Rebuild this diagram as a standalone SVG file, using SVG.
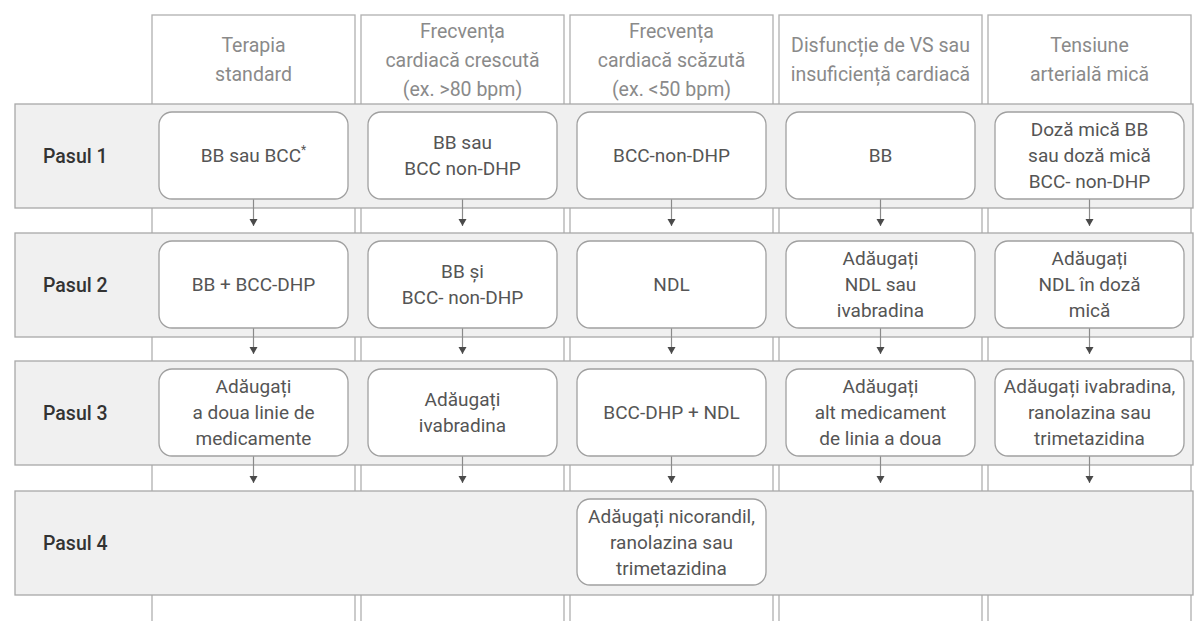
<svg xmlns="http://www.w3.org/2000/svg" width="1195" height="621" viewBox="0 0 1195 621">
<defs>
<style>
.col{fill:#fff;stroke:#b0b0b0;stroke-width:1.3}
.band{fill:#f0f0f0;stroke:#a8a8a8;stroke-width:1.3}
.node{fill:#fff;stroke:#a0a0a0;stroke-width:1.3}
.hd{font-family:Roboto,"Noto Sans",sans-serif;font-size:19.5px;fill:#8a8a8a;text-anchor:middle;dominant-baseline:central}
.nt{font-family:Roboto,"Noto Sans",sans-serif;font-size:19px;fill:#555;text-anchor:middle;dominant-baseline:central}
.step{font-family:Roboto,"Noto Sans",sans-serif;font-size:19.5px;font-weight:500;fill:#333;dominant-baseline:central}
.conn{stroke:#8a8a8a;stroke-width:1.2;fill:none}
</style>
<marker id="ah" markerUnits="userSpaceOnUse" markerWidth="10" markerHeight="10" refX="8" refY="5" orient="auto">
<path d="M1,1 L8,5 L1,9 Z" fill="#4a4a4a"/>
</marker>
</defs>
<rect width="1195" height="621" fill="#fff"/>

<g id="columns">
<rect class="col" x="152" y="15" width="203" height="620"/>
<rect class="col" x="361" y="15" width="203" height="620"/>
<rect class="col" x="570" y="15" width="203" height="620"/>
<rect class="col" x="779" y="15" width="203" height="620"/>
<rect class="col" x="988" y="15" width="203" height="620"/>
</g>

<g id="headers">
<g id="h1"><text class="hd" x="253.5" y="45">Terapia</text><text class="hd" x="253.5" y="74">standard</text></g>
<g id="h2"><text class="hd" x="462.5" y="31">Frecvența</text><text class="hd" x="462.5" y="60">cardiacă crescută</text><text class="hd" x="462.5" y="89">(ex. &gt;80 bpm)</text></g>
<g id="h3"><text class="hd" x="671.5" y="31">Frecvența</text><text class="hd" x="671.5" y="60">cardiacă scăzută</text><text class="hd" x="671.5" y="89">(ex. &lt;50 bpm)</text></g>
<g id="h4"><text class="hd" x="880.5" y="45">Disfuncție de VS sau</text><text class="hd" x="880.5" y="74">insuficiență cardiacă</text></g>
<g id="h5"><text class="hd" x="1089.5" y="45">Tensiune</text><text class="hd" x="1089.5" y="74">arterială mică</text></g>
</g>

<g id="bands">
<rect class="band" x="15" y="104" width="1178" height="104"/>
<rect class="band" x="15" y="233" width="1178" height="104"/>
<rect class="band" x="15" y="361" width="1178" height="104"/>
<rect class="band" x="15" y="491" width="1178" height="104"/>
<text class="step" x="43" y="156">Pasul 1</text>
<text class="step" x="43" y="285">Pasul 2</text>
<text class="step" x="43" y="413">Pasul 3</text>
<text class="step" x="43" y="543">Pasul 4</text>
</g>

<g id="connectors">
<line class="conn" x1="253.5" y1="199" x2="253.5" y2="226" marker-end="url(#ah)"/>
<line class="conn" x1="462.5" y1="199" x2="462.5" y2="226" marker-end="url(#ah)"/>
<line class="conn" x1="671.5" y1="199" x2="671.5" y2="226" marker-end="url(#ah)"/>
<line class="conn" x1="880.5" y1="199" x2="880.5" y2="226" marker-end="url(#ah)"/>
<line class="conn" x1="1089.5" y1="199" x2="1089.5" y2="226" marker-end="url(#ah)"/>
<line class="conn" x1="253.5" y1="328" x2="253.5" y2="354" marker-end="url(#ah)"/>
<line class="conn" x1="462.5" y1="328" x2="462.5" y2="354" marker-end="url(#ah)"/>
<line class="conn" x1="671.5" y1="328" x2="671.5" y2="354" marker-end="url(#ah)"/>
<line class="conn" x1="880.5" y1="328" x2="880.5" y2="354" marker-end="url(#ah)"/>
<line class="conn" x1="1089.5" y1="328" x2="1089.5" y2="354" marker-end="url(#ah)"/>
<line class="conn" x1="253.5" y1="456" x2="253.5" y2="483" marker-end="url(#ah)"/>
<line class="conn" x1="462.5" y1="456" x2="462.5" y2="483" marker-end="url(#ah)"/>
<line class="conn" x1="671.5" y1="456" x2="671.5" y2="483" marker-end="url(#ah)"/>
<line class="conn" x1="880.5" y1="456" x2="880.5" y2="483" marker-end="url(#ah)"/>
<line class="conn" x1="1089.5" y1="456" x2="1089.5" y2="483" marker-end="url(#ah)"/>
</g>

<g id="r1c1"><rect class="node" x="159" y="112" width="189" height="87" rx="13"/><text class="nt" x="253.5" y="155.5">BB sau BCC<tspan font-size="12" dy="-6">*</tspan></text></g>
<g id="r1c2"><rect class="node" x="368" y="112" width="189" height="87" rx="13"/><text class="nt" x="462.5" y="142.5">BB sau</text><text class="nt" x="462.5" y="168.5">BCC non-DHP</text></g>
<g id="r1c3"><rect class="node" x="577" y="112" width="189" height="87" rx="13"/><text class="nt" x="671.5" y="155.5">BCC-non-DHP</text></g>
<g id="r1c4"><rect class="node" x="786" y="112" width="189" height="87" rx="13"/><text class="nt" x="880.5" y="155.5">BB</text></g>
<g id="r1c5"><rect class="node" x="995" y="112" width="189" height="87" rx="13"/><text class="nt" x="1089.5" y="129.5">Doză mică BB</text><text class="nt" x="1089.5" y="155.5">sau doză mică</text><text class="nt" x="1089.5" y="181.5">BCC- non-DHP</text></g>

<g id="r2c1"><rect class="node" x="159" y="241" width="189" height="87" rx="13"/><text class="nt" x="253.5" y="284.5">BB + BCC-DHP</text></g>
<g id="r2c2"><rect class="node" x="368" y="241" width="189" height="87" rx="13"/><text class="nt" x="462.5" y="271.5">BB și</text><text class="nt" x="462.5" y="297.5">BCC- non-DHP</text></g>
<g id="r2c3"><rect class="node" x="577" y="241" width="189" height="87" rx="13"/><text class="nt" x="671.5" y="284.5">NDL</text></g>
<g id="r2c4"><rect class="node" x="786" y="241" width="189" height="87" rx="13"/><text class="nt" x="880.5" y="258.5">Adăugați</text><text class="nt" x="880.5" y="284.5">NDL sau</text><text class="nt" x="880.5" y="310.5">ivabradina</text></g>
<g id="r2c5"><rect class="node" x="995" y="241" width="189" height="87" rx="13"/><text class="nt" x="1089.5" y="258.5">Adăugați</text><text class="nt" x="1089.5" y="284.5">NDL în doză</text><text class="nt" x="1089.5" y="310.5">mică</text></g>

<g id="r3c1"><rect class="node" x="159" y="369" width="189" height="87" rx="13"/><text class="nt" x="253.5" y="386.5">Adăugați</text><text class="nt" x="253.5" y="412.5">a doua linie de</text><text class="nt" x="253.5" y="438.5">medicamente</text></g>
<g id="r3c2"><rect class="node" x="368" y="369" width="189" height="87" rx="13"/><text class="nt" x="462.5" y="399.5">Adăugați</text><text class="nt" x="462.5" y="425.5">ivabradina</text></g>
<g id="r3c3"><rect class="node" x="577" y="369" width="189" height="87" rx="13"/><text class="nt" x="671.5" y="412.5">BCC-DHP + NDL</text></g>
<g id="r3c4"><rect class="node" x="786" y="369" width="189" height="87" rx="13"/><text class="nt" x="880.5" y="386.5">Adăugați</text><text class="nt" x="880.5" y="412.5">alt medicament</text><text class="nt" x="880.5" y="438.5">de linia a doua</text></g>
<g id="r3c5"><rect class="node" x="995" y="369" width="189" height="87" rx="13"/><text class="nt" x="1089.5" y="386.5">Adăugați ivabradina,</text><text class="nt" x="1089.5" y="412.5">ranolazina sau</text><text class="nt" x="1089.5" y="438.5">trimetazidina</text></g>

<g id="r4c3"><rect class="node" x="577" y="499" width="189" height="86" rx="13"/><text class="nt" x="671.5" y="516">Adăugați nicorandil,</text><text class="nt" x="671.5" y="542">ranolazina sau</text><text class="nt" x="671.5" y="568">trimetazidina</text></g>
</svg>
